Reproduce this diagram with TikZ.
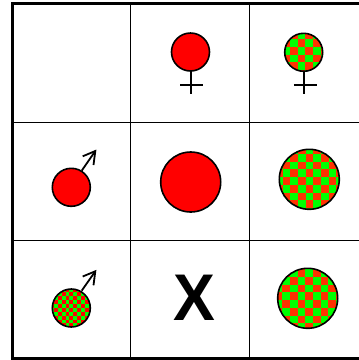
\documentclass[tikz,border=0pt]{standalone}
\usepackage{fontspec}
\setmainfont{Liberation Sans}
\definecolor{chkorange}{RGB}{255,51,0}
\definecolor{chkgreen}{RGB}{0,255,0}
\definecolor{chkred}{RGB}{255,0,0}
% #1 cx, #2 cy, #3 r, #4 cell, #5 x origin (dark cell), #6 y origin, #7 colour
\newcommand{\chkball}[7]{%
  \begin{scope}
    \clip (#1,#2) circle (#3);
    \fill[chkgreen] (#1-#3,#2-#3) rectangle (#1+#3,#2+#3);
    \foreach \i in {-12,...,12}{\foreach \j in {-12,...,12}{
      \pgfmathparse{int(mod(\i+\j+24,2))}
      \ifnum\pgfmathresult=0
        \fill[#7] ({#5+\i*#4},{#6+\j*#4}) rectangle ({#5+\i*#4+#4},{#6+\j*#4+#4});
      \fi}}
  \end{scope}
  \draw[ballline] (#1,#2) circle (#3);}
\tikzset{
  ballline/.style={black,line width=1.6pt},
  plain/.style={ballline,fill=chkred},
  gridline/.style={black,line width=1pt},
  framing/.style={black,line width=3pt},
  symline/.style={black,line width=1.8pt},
  bigx/.style={inner sep=0pt,xscale=0.95,font=\fontsize{66}{66}\selectfont\bfseries}
}
\begin{document}
\begin{tikzpicture}[x=1pt,y=-1pt]
\useasboundingbox (0,0) rectangle (359,360);
\fill[white] (0,0) rectangle (359,360);
\begin{scope}
\clip (0,0) rectangle (359,360);
% grid
\draw[gridline] (131,3) -- (131,358);
\draw[gridline] (249.5,3) -- (249.5,358);
\draw[gridline] (12.5,122) -- (362,122);
\draw[gridline] (12.5,240) -- (362,240);
\draw[framing] (368,3.2) -- (12.5,3.2) -- (12.5,358.5) -- (368,358.5);
% top middle: female, solid
\coordinate (fa) at (191,71);
\coordinate (fb) at (191,94);
\coordinate (fc) at (180.5,85);
\coordinate (fd) at (203,85);
\draw[symline] (fa) -- (fb);
\draw[symline] (fc) -- (fd);
\draw[plain] (190.5,52) circle (19);
% top right: female, checkered
\coordinate (ga) at (304,71);
\coordinate (gb) at (304,94);
\coordinate (gc) at (294,85);
\coordinate (gd) at (317,85);
\draw[symline] (ga) -- (gb);
\draw[symline] (gc) -- (gd);
\chkball{303.7}{52.3}{19}{7.7}{297.7}{39.3}{chkorange}
% middle left: male, solid
\coordinate (ma) at (81.7,170.7);
\coordinate (mb) at (95.3,151);
\coordinate (mc) at (82.7,156.3);
\coordinate (md) at (93.5,165);
\draw[symline] (ma) -- (mb);
\draw[symline] (mc) -- (mb) -- (md);
\draw[plain] (71.3,187.3) circle (19);
% centre
\draw[plain] (190.7,182) circle (30);
% middle right
\chkball{309.3}{179.3}{30}{7.7}{305.7}{154}{chkorange}
% bottom left: male, checkered
\coordinate (na) at (81.7,290.7);
\coordinate (nb) at (95.3,271.3);
\coordinate (nc) at (82.7,276.5);
\coordinate (nd) at (93.5,285.3);
\draw[symline] (na) -- (nb);
\draw[symline] (nc) -- (nb) -- (nd);
\chkball{71.3}{308}{19}{3.9}{69.5}{300}{chkred}
% bottom middle
\node[bigx] (xmark) at (194.7,297.3) {X};
% bottom right
\chkball{307.7}{298.3}{30}{7.7}{297.7}{269.3}{chkorange}
\end{scope}
\end{tikzpicture}
\end{document}
